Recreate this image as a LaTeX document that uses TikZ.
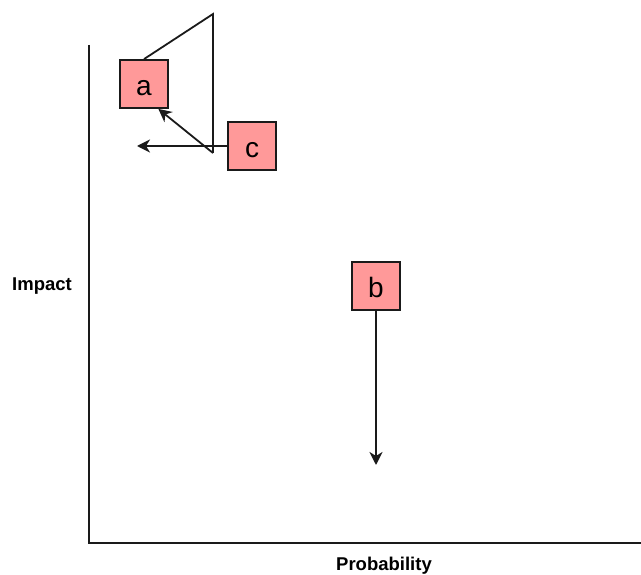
\documentclass[tikz,border=0pt]{standalone}
\usepackage{fontspec}
\setmainfont{Liberation Sans}
\usetikzlibrary{arrows.meta}
\definecolor{riskfill}{HTML}{FF9999}
\definecolor{inkline}{HTML}{1A1A1A}

\begin{document}
\begin{tikzpicture}[x=1pt, y=-1pt,
  >={Stealth[length=13pt, width=13pt, inset=4pt]},
  move/.style={draw=inkline, line width=1.8pt},
  risk/.style={rectangle, draw=inkline, line width=1.8pt, fill=riskfill,
    minimum size=48pt, inner sep=0pt, text height=24pt, text depth=0pt,
    font=\fontsize{28}{30}\selectfont},
  axislabel/.style={font=\bfseries\fontsize{18.5}{20}\selectfont}]
  \useasboundingbox (0,0) rectangle (641,575);

  % axes
  \coordinate (ytop) at (89,45);
  \coordinate (xend) at (641,543);
  \draw[move] (ytop) |- (xend);
  \node[axislabel] (impact) at (42,286) {Impact};
  \node[axislabel] (prob) at (384,566) {Probability};

  % risks
  \node[risk] (a) at (144,84) {a};
  \node[risk] (b) at (376,286) {b};
  \node[risk] (c) at (252,146) {c};

  % moves
  \coordinate (bend) at (376,465);
  \coordinate (cfree) at (137,146);
  \coordinate (ctop) at (213,14);
  \coordinate (cturn) at (213,153);
  \draw[move, ->] (b) -- (bend);
  \draw[move, ->] (c) -- (cfree);
  \draw[move] (a.north) -- (ctop) -- (cturn);
  \draw[move, ->] (cturn) -- (a.-60);
\end{tikzpicture}
\end{document}
